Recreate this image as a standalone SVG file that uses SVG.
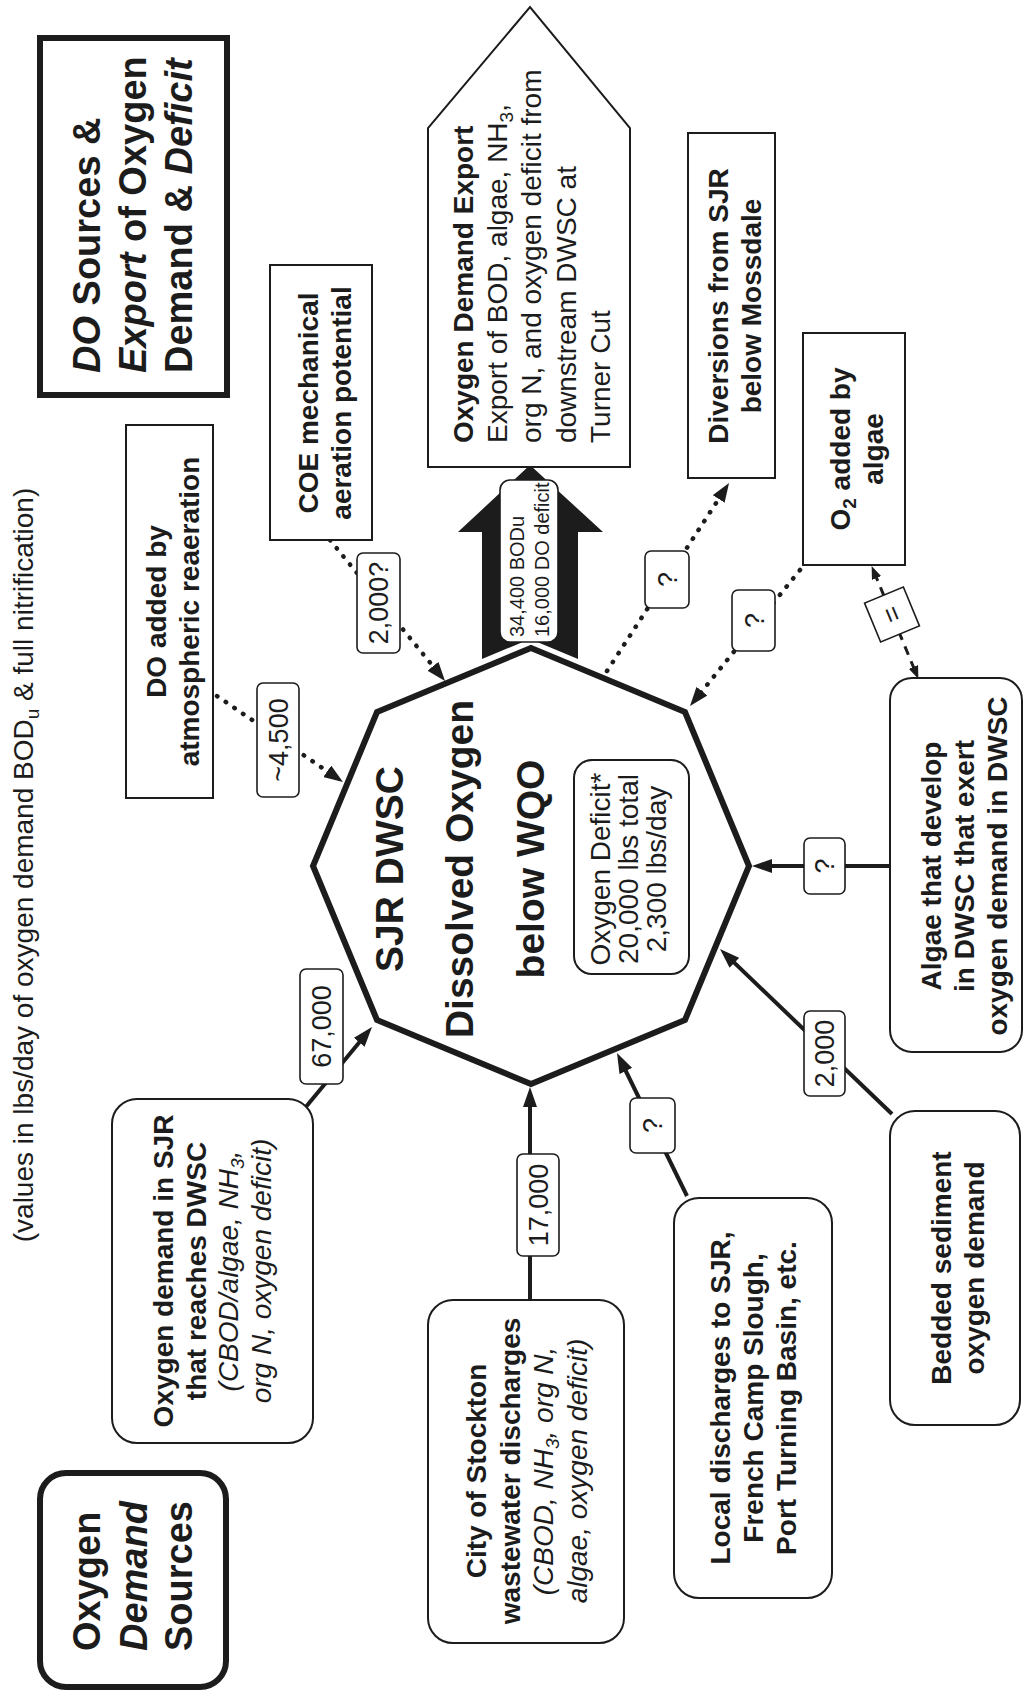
<svg xmlns="http://www.w3.org/2000/svg" width="1024" height="1691" viewBox="0 0 1024 1691">
<style>
text{font-family:"Liberation Sans",Arial,Helvetica,sans-serif;fill:#1c1c1c}
.b{font-weight:bold;font-size:28px}
.r{font-size:28px}
.i{font-style:italic}
.t{font-weight:bold;font-size:38px}
.c{font-weight:bold;font-size:39px;text-anchor:middle}
.m{text-anchor:middle}
.lb{font-size:27px;text-anchor:middle}
.box{fill:#fff;stroke:#1c1c1c;stroke-width:2}
.hvy{fill:#fff;stroke:#1c1c1c;stroke-width:6}
.oct{fill:#fff;stroke:#1c1c1c;stroke-width:6;stroke-linejoin:miter}
.lab{fill:#fff;stroke:#1c1c1c;stroke-width:1.6}
.solid{fill:none;stroke:#1c1c1c;stroke-width:4}
.dot{fill:none;stroke:#1c1c1c;stroke-width:4.5;stroke-linecap:round;stroke-dasharray:0.5 10}
.dash{fill:none;stroke:#1c1c1c;stroke-width:3;stroke-dasharray:9 7}
</style>
<defs>
<marker id="ah" markerUnits="userSpaceOnUse" markerWidth="20" markerHeight="14" refX="10" refY="7" orient="auto"><path d="M0,0 L20,7 L0,14 z" fill="#1c1c1c"/></marker>
<marker id="ad" markerUnits="userSpaceOnUse" markerWidth="19" markerHeight="14" refX="9" refY="7" orient="auto"><path d="M0,0 L19,7 L0,14 z" fill="#1c1c1c"/></marker>
<marker id="as" markerUnits="userSpaceOnUse" markerWidth="13" markerHeight="10" refX="6" refY="5" orient="auto-start-reverse"><path d="M0,0 L13,5 L0,10 z" fill="#1c1c1c"/></marker>
</defs>
<rect x="0" y="0" width="1024" height="1691" fill="#fff"/>
<g transform="translate(0,1691) rotate(-90)">

<g id="subtitle">
<text class="r m" x="826" y="33">(values in lbs/day of oxygen demand BOD<tspan font-size="19" dy="6">u</tspan><tspan dy="-6"> &amp; full nitrification)</tspan></text>
</g>

<g id="title-export">
<rect class="hvy" x="1296" y="40" width="357" height="187"/>
<text class="t" x="1318" y="100"><tspan class="i">DO</tspan> Sources &amp;</text>
<text class="t" x="1318" y="146"><tspan class="i">Export</tspan> of Oxygen</text>
<text class="t" x="1318" y="192">Demand &amp; <tspan class="i">Deficit</tspan></text>
</g>

<g id="title-sources">
<rect class="hvy" x="4" y="40" width="214" height="186" rx="26"/>
<text class="t" x="40" y="100">Oxygen</text>
<text class="t i" x="40" y="147">Demand</text>
<text class="t" x="40" y="192">Sources</text>
</g>

<g id="connectors">
<line class="solid" x1="583" y1="305" x2="656.3" y2="365.6" marker-end="url(#ah)"/>
<line class="solid" x1="391" y1="530" x2="594" y2="530" marker-end="url(#ah)"/>
<line class="solid" x1="495" y1="687" x2="629" y2="621.4" marker-end="url(#ah)"/>
<line class="solid" x1="577" y1="892" x2="735.1" y2="727.2" marker-end="url(#ah)"/>
<line class="solid" x1="825" y1="890" x2="825" y2="762" marker-end="url(#ah)"/>
<line class="dot" x1="995" y1="217" x2="914.6" y2="334.7" marker-end="url(#ad)"/>
<line class="dot" x1="1151" y1="330" x2="1017.8" y2="438.7" marker-end="url(#ad)"/>
<line class="dot" x1="1020" y1="607" x2="1199.6" y2="723.6" marker-end="url(#ad)"/>
<line class="dot" x1="1121" y1="800" x2="992.8" y2="696.3" marker-end="url(#ad)"/>
<line class="dash" x1="1118.5" y1="874.3" x2="1018.5" y2="915.7" marker-start="url(#as)" marker-end="url(#as)"/>
<polygon id="export-arrow" points="1226,530 1159,603 1159,578 1032,578 1052,530 1032,482 1159,482 1159,458" fill="#1c1c1c"/>
</g>

<g id="center">
<polygon class="oct" points="1043,531 979,685 825,749 671,685 607,531 671,377 825,313 979,377"/>
<text class="c" x="822" y="403">SJR DWSC</text>
<text class="c" x="822" y="473">Dissolved Oxygen</text>
<text class="c" x="822" y="544">below WQO</text>
</g>

<g id="deficit">
<rect class="box" x="717" y="574" width="214" height="115" rx="18"/>
<text class="r m" x="822" y="610">Oxygen Deficit*</text>
<text class="r m" x="822" y="638">20,000 lbs total</text>
<text class="r m" x="822" y="666">2,300 lbs/day</text>
</g>

<g id="sjr">
<rect class="box" x="248" y="112" width="344" height="201" rx="25"/>
<text class="b m" x="420" y="173">Oxygen demand in SJR</text>
<text class="b m" x="420" y="206">that reaches DWSC</text>
<text class="r i m" x="420" y="238">(CBOD/algae, NH<tspan font-size="19" dy="6">3</tspan><tspan dy="-6">,</tspan></text>
<text class="r i m" x="420" y="271">org N, oxygen deficit)</text>
</g>

<g id="stockton">
<rect class="box" x="48" y="428" width="343" height="196" rx="25"/>
<text class="b m" x="220" y="486">City of Stockton</text>
<text class="b m" x="220" y="520">wastewater discharges</text>
<text class="r i m" x="220" y="553">(CBOD, NH<tspan font-size="19" dy="6">3</tspan><tspan dy="-6">, org N,</tspan></text>
<text class="r i m" x="220" y="587">algae, oxygen deficit)</text>
</g>

<g id="local">
<rect class="box" x="93" y="674" width="400" height="158" rx="25"/>
<text class="b m" x="293" y="730">Local discharges to SJR,</text>
<text class="b m" x="293" y="763">French Camp Slough,</text>
<text class="b m" x="293" y="796">Port Turning Basin, etc.</text>
</g>

<g id="bedded">
<rect class="box" x="266" y="890" width="314" height="130" rx="25"/>
<text class="b m" x="423" y="951">Bedded sediment</text>
<text class="b m" x="423" y="984">oxygen demand</text>
</g>

<g id="algae">
<rect class="box" x="639" y="890" width="374" height="132" rx="22"/>
<text class="b m" x="825" y="941">Algae that develop</text>
<text class="b m" x="825" y="974">in DWSC that exert</text>
<text class="b m" x="825" y="1007">oxygen demand in DWSC</text>
</g>

<g id="reaeration">
<rect class="box" x="893" y="126" width="373" height="87"/>
<text class="b m" x="1079.5" y="166">DO added by</text>
<text class="b m" x="1079.5" y="199">atmospheric reaeration</text>
</g>

<g id="coe">
<rect class="box" x="1151" y="270" width="275" height="102"/>
<text class="b m" x="1288" y="318">COE mechanical</text>
<text class="b m" x="1288" y="351">aeration potential</text>
</g>

<g id="export">
<polygon class="box" points="1224,428 1563,428 1684,530 1563,630 1224,630"/>
<text class="b" x="1248" y="473">Oxygen Demand Export</text>
<text class="r" x="1248" y="507">Export of BOD, algae, NH<tspan font-size="19" dy="6">3</tspan><tspan dy="-6">,</tspan></text>
<text class="r" x="1248" y="541">org N, and oxygen deficit from</text>
<text class="r" x="1248" y="576">downstream DWSC at</text>
<text class="r" x="1248" y="610">Turner Cut</text>
</g>

<g id="diversions">
<rect class="box" x="1213" y="688" width="345" height="87"/>
<text class="b m" x="1385" y="728">Diversions from SJR</text>
<text class="b m" x="1385" y="761">below Mossdale</text>
</g>

<g id="o2">
<rect class="box" x="1126" y="803" width="232" height="102"/>
<text class="b m" x="1242" y="850">O<tspan font-size="19" dy="6">2</tspan><tspan dy="-6"> added by</tspan></text>
<text class="b m" x="1242" y="883">algae</text>
</g>

<g id="labels">
<rect class="lab" x="607" y="300" width="115" height="43" rx="6"/><text class="lb" x="664.5" y="331">67,000</text>
<rect class="lab" x="435" y="517" width="102" height="42" rx="6"/><text class="lb" x="486" y="548">17,000</text>
<rect class="lab" x="538" y="630" width="55" height="45" rx="6"/><text class="lb" x="565.5" y="662">?</text>
<rect class="lab" x="595" y="804" width="85" height="41" rx="6"/><text class="lb" x="637.5" y="834">2,000</text>
<rect class="lab" x="797" y="804" width="56" height="41" rx="6"/><text class="lb" x="825" y="834">?</text>
<rect class="lab" x="894" y="257" width="114" height="42" rx="6"/><text class="lb" x="951" y="288">~4,500</text>
<rect class="lab" x="1038" y="357" width="100" height="43" rx="6"/><text class="lb" x="1088" y="388">2,000?</text>
<rect class="lab" x="1083" y="645" width="57" height="44" rx="6"/><text class="lb" x="1111.5" y="677">?</text>
<rect class="lab" x="1040" y="732" width="61" height="43" rx="6"/><text class="lb" x="1070.5" y="764">?</text>
<rect class="lab" x="1049" y="500" width="162" height="58" rx="10"/>
<text x="1054" y="524" font-size="20">34,400 BODu</text>
<text x="1054" y="549" font-size="20">16,000 DO deficit</text>
<g transform="translate(1076.5,892) rotate(-22.5)"><rect class="lab" x="-21" y="-21" width="42" height="42"/><text class="lb" x="0" y="9">=</text></g>
</g>

</g>
</svg>
